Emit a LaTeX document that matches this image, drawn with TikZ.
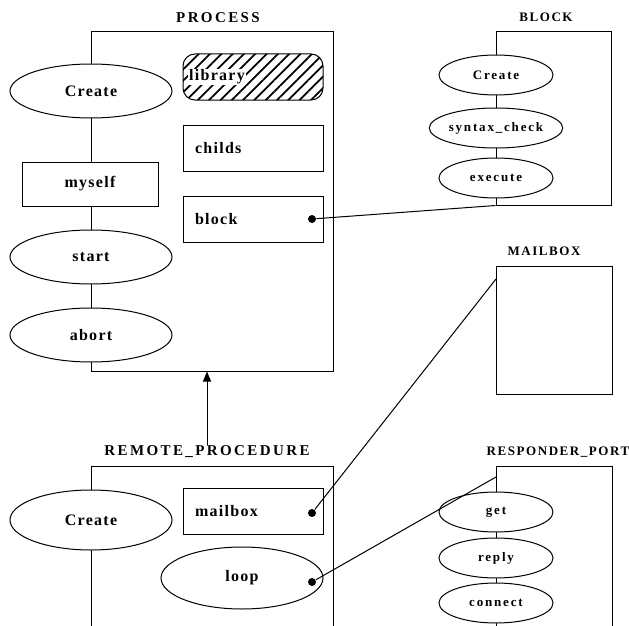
\documentclass[tikz,border=0pt]{standalone}
\usepackage{fontspec}
\setmainfont{Liberation Serif}
\newfontfamily\namefont[LetterSpace=8]{Liberation Serif}
\newfontfamily\smallfont[LetterSpace=14]{Liberation Serif}
\newfontfamily\headfont[LetterSpace=16]{Liberation Serif}
\newfontfamily\smallheadfont[LetterSpace=12]{Liberation Serif}
\usetikzlibrary{shapes.geometric,arrows.meta,patterns.meta}

\tikzset{
    every path/.style={line width=1pt},
    classbox/.style={draw, rectangle, inner sep=0pt},
    bigname/.style={font=\headfont\bfseries\fontsize{15}{18}\selectfont, inner sep=0pt},
    smallname/.style={font=\smallheadfont\bfseries\fontsize{13}{16}\selectfont, inner sep=0pt},
    bigoval/.style={draw, fill=white, ellipse, minimum width=162pt, minimum height=54pt, inner sep=0pt, font=\namefont\bfseries\fontsize{16}{20}\selectfont},
    smalloval/.style={draw, fill=white, ellipse, minimum width=114pt, minimum height=40pt, inner sep=0pt, font=\smallfont\bfseries\fontsize{13}{15}\selectfont},
    slot/.style={draw, fill=white, rectangle, minimum width=140pt, minimum height=46pt, text width=116pt, inner xsep=12pt, inner ysep=0pt, align=left, font=\namefont\bfseries\fontsize{16}{20}\selectfont},
    linkdot/.style={circle, fill=black, inner sep=0pt, minimum size=8pt},
}

\begin{document}
\begin{tikzpicture}[x=1pt, y=-1pt]

    \useasboundingbox (0,0) rectangle (629,626);

    \node[classbox, minimum width=242pt, minimum height=339pt] (process) at (212,201.5) {};
    \node[classbox, minimum width=115pt, minimum height=173pt] (blockbox) at (553.5,118.5) {};
    \node[classbox, minimum width=116pt, minimum height=128pt] (mailboxbox) at (554,330) {};
    \draw (91,626) |- (333,466) -- (333,626);
    \draw (496,626) |- (612,466) -- (612,626);

    \node[bigname] (processname) at (218,18) {PROCESS};
    \node[smallname] (blockname) at (546,17) {BLOCK};
    \node[smallname] (mailboxname) at (544,251) {MAILBOX};
    \node[bigname] (remotename) at (207,452) {REMOTE\_PROCEDURE};
    \node[smallname] (respondername) at (558,452) {RESPONDER\_PORT};

    \foreach \name/\y/\txt in {pcreate/91/Create, start/257/start, abort/335/abort}
        \node[bigoval] (\name) at (91,\y) {\txt};
    \node[draw, fill=white, minimum width=136pt, minimum height=44pt, font=\namefont\bfseries\fontsize{16}{20}\selectfont] (myself) at (90,184) {myself};

    \node[draw, rounded corners=12pt, minimum width=140pt, minimum height=46pt, pattern={Lines[angle=45, distance=8pt, line width=1.8pt]}] (library) at (253,77) {};
    \node[fill=white, inner sep=1pt, font=\namefont\bfseries\fontsize{16}{20}\selectfont] (librarytext) at (217,77) {library};
    \node[slot] (childs) at (253,148) {childs};
    \node[slot] (block) at (253,219) {block};

    \foreach \name/\y/\txt in {bcreate/75/Create, syntax/128/syntax\_check, execute/178/execute}
        \node[smalloval] (\name) at (496,\y) {\txt};

    \node[bigoval, minimum height=60pt] (rcreate) at (91,520) {Create};
    \node[slot] (mailbox) at (253,511) {mailbox};
    \node[bigoval, minimum height=62pt] (loop) at (242,578) {loop};

    \foreach \name/\y/\txt in {get/512/get, reply/558/reply, connect/603/connect}
        \node[smalloval] (\name) at (496,\y) {\txt};

    \node[linkdot] (blockdot) at (312,219) {};
    \node[linkdot] (mailboxdot) at (312,513) {};
    \node[linkdot] (loopdot) at (312,582) {};
    \coordinate (mailboxin) at (496,279);
    \coordinate (responderin) at (496,477);

    \draw (blockdot) -- (blockbox.south west);
    \draw (mailboxdot) -- (mailboxin);
    \draw (loopdot) -- (responderin);

    \draw[-{Triangle[width=8pt, length=10pt]}] (remotename.north) -- (remotename.north |- process.south);

\end{tikzpicture}
\end{document}
